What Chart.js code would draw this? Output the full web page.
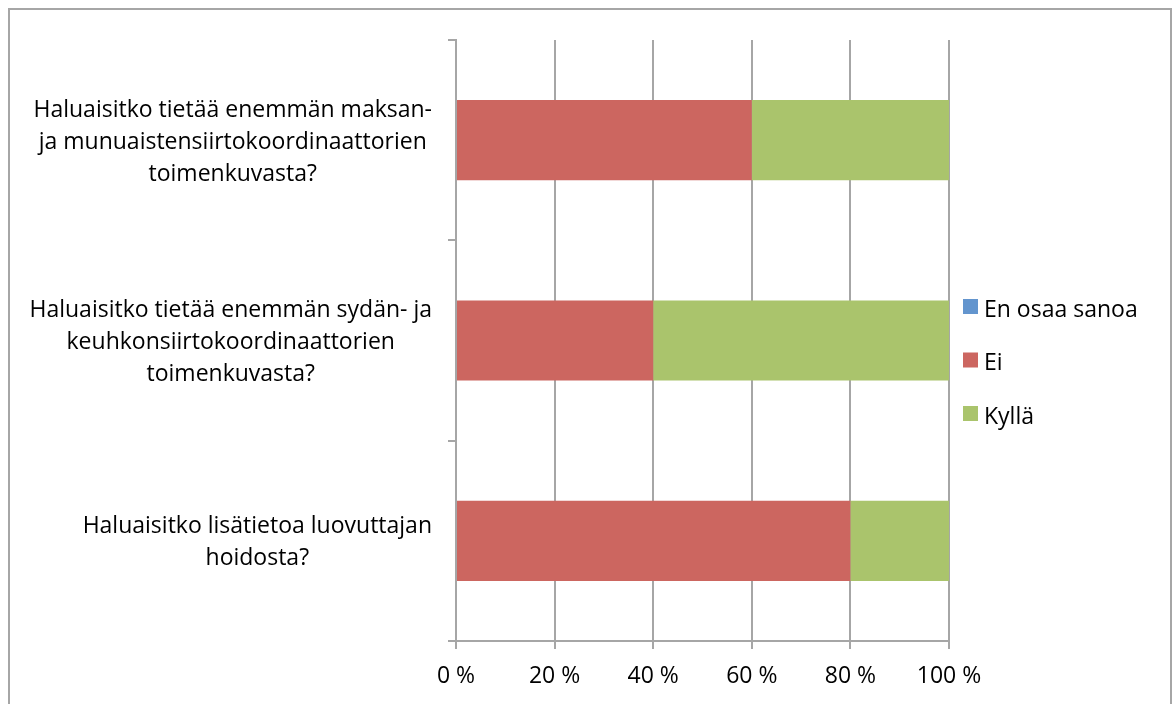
<!DOCTYPE html>
<html>
<head>
<meta charset="utf-8">
<title>Siirtokoordinaattorit</title>
<script src="https://cdn.jsdelivr.net/npm/chart.js@4.4.1/dist/chart.umd.min.js"></script>
<style>
  html, body { margin: 0; padding: 0; background: #fff; }
  #wrap { position: relative; width: 1175px; height: 704px; overflow: hidden; }
  #frame { position: absolute; left: 8px; top: 8px; width: 1164px; height: 720px; border: 2px solid #a6a6a6; box-sizing: border-box; }
  canvas { position: absolute; left: 0; top: 0; }
</style>
</head>
<body>
<div id="wrap">
  <div id="frame"></div>
  <canvas id="chart" width="1175" height="704"></canvas>
</div>
<script>
// questions, one array of lines per bar (top to bottom)
const categories = [
  ['Haluaisitko tietää enemmän maksan-', 'ja munuaistensiirtokoordinaattorien', 'toimenkuvasta?'],
  ['Haluaisitko tietää enemmän sydän- ja', 'keuhkonsiirtokoordinaattorien', 'toimenkuvasta?'],
  ['Haluaisitko lisätietoa luovuttajan', 'hoidosta?']
];
// answers in percent
const enOsaaSanoa = [0, 0, 0];
const ei = [60, 40, 80];
const kylla = [40, 60, 20];
const xTicks = [0, 20, 40, 60, 80, 100];

const FONT = '"Open Sans", sans-serif';
const FONT_SIZE = 23;
const GRID = '#a6a6a6';

// question texts: block right aligned next to the axis, lines centered in the block
const questionLabels = {
  id: 'questionLabels',
  afterDraw(chart) {
    const ctx = chart.ctx;
    const y = chart.scales.y;
    const right = y.right - 24;
    const lineGap = 32;
    ctx.save();
    ctx.font = FONT_SIZE + 'px ' + FONT;
    ctx.fillStyle = '#000';
    ctx.textAlign = 'center';
    ctx.textBaseline = 'middle';
    categories.forEach((lines, i) => {
      const widest = Math.max(...lines.map(l => ctx.measureText(l).width));
      const cx = right - widest / 2;
      const top = y.getPixelForValue(i) + 2 - (lines.length - 1) * lineGap / 2;
      lines.forEach((l, j) => ctx.fillText(l, cx, top + j * lineGap));
    });
    ctx.restore();
  }
};

// legend on the right
const sideLegend = {
  id: 'sideLegend',
  afterDraw(chart) {
    const ctx = chart.ctx;
    const area = chart.chartArea;
    const x = area.right + 14;
    const first = (area.top + area.bottom) / 2 - 34;
    ctx.save();
    ctx.font = FONT_SIZE + 'px ' + FONT;
    ctx.textBaseline = 'alphabetic';
    chart.data.datasets.forEach((ds, i) => {
      const cy = first + i * 53.5;
      ctx.fillStyle = ds.backgroundColor;
      ctx.fillRect(x, cy - 7.5, 15, 15);
      ctx.fillStyle = '#000';
      ctx.fillText(ds.label, x + 21, cy + 10);
    });
    ctx.restore();
  }
};

const ctx = document.getElementById('chart');

new Chart(ctx, {
  type: 'bar',
  data: {
    labels: categories,
    datasets: [
      { label: 'En osaa sanoa', data: enOsaaSanoa, backgroundColor: '#6395ce' },
      { label: 'Ei', data: ei, backgroundColor: '#cc6660' },
      { label: 'Kyllä', data: kylla, backgroundColor: '#aac46c' }
    ]
  },
  options: {
    indexAxis: 'y',
    responsive: false,
    animation: false,
    layout: { padding: { top: 40, right: 226, left: 0, bottom: 0 } },
    datasets: { bar: { barPercentage: 0.4, categoryPercentage: 1 } },
    plugins: {
      legend: { display: false },
      tooltip: { enabled: false }
    },
    scales: {
      x: {
        stacked: true,
        min: 0,
        max: 100,
        afterBuildTicks(scale) {
          scale.ticks = xTicks.map(v => ({ value: v }));
        },
        afterFit(scale) { scale.height = 63; },
        ticks: {
          color: '#000',
          padding: 14,
          font: { family: FONT, size: FONT_SIZE },
          callback: v => v + ' %'
        },
        grid: { color: GRID, lineWidth: 2, tickLength: 8 },
        border: { color: GRID, width: 2 }
      },
      y: {
        stacked: true,
        afterFit(scale) { scale.width = 456; },
        ticks: { display: false },
        grid: { offset: true, drawOnChartArea: false, color: GRID, lineWidth: 2, tickLength: 8 },
        border: { color: GRID, width: 2 }
      }
    }
  },
  plugins: [questionLabels, sideLegend]
});
</script>
</body>
</html>
